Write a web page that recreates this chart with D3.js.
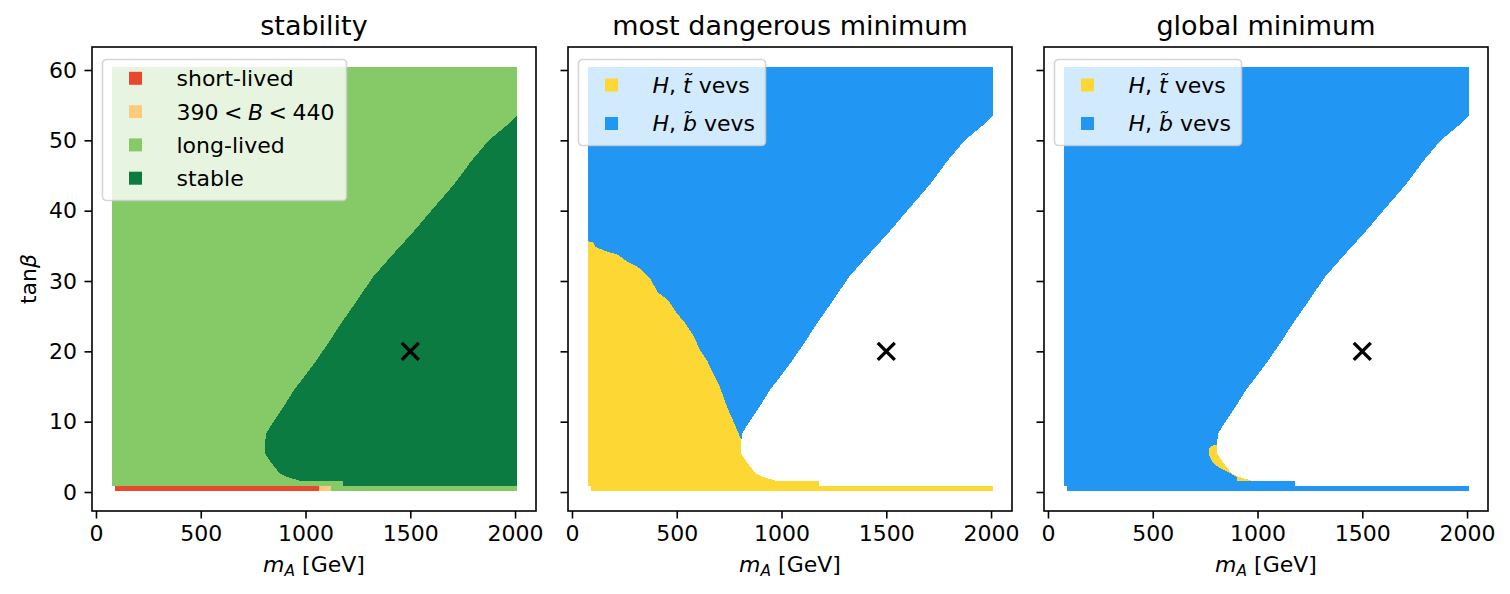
<!DOCTYPE html>
<html lang="en">
<head>
<meta charset="UTF-8">
<script src="https://cdn.jsdelivr.net/npm/d3@7"></script>
<style>
    body { margin: 0; background: #fff; }
    svg { font-family: "DejaVu Sans", sans-serif; }
</style>
<title>Vacuum stability scan</title>
</head>
<body>
<script>
    // ---- data (mA in GeV, tanβ) ----
    const panelTitles = ["stability", "most dangerous minimum", "global minimum"];
    const xTicks = [0, 500, 1000, 1500, 2000];
    const yTicks = [0, 10, 20, 30, 40, 50, 60];

    // extent of the scanned grid
    const scanMA = [75, 2011];
    const scanTanb = [0.9, 60.4];
    // thin lowest-tanβ row
    const stripMA = [91, 2011];
    const stripTanb = [0.2, 0.9];

    // stability along the lowest row
    const stripClass = ["short-lived", "390<B<440", "long-lived"];
    const stripFrom = [91, 1064, 1122];
    const stripTo = [1064, 1122, 2011];

    // left edge of the stable region (no deeper minimum), top to bottom
    const stableTanb = [53.6, 52.5, 51.5, 50.0, 47.0, 43.6, 40.0, 37.0, 33.4, 30.5, 27.3, 24.0,
                        21.0, 18.0, 14.5, 12.0, 10.2, 8.5, 7.4, 5.5, 4.1, 2.7, 2.2, 1.5, 1.5, 0.9];
    const stableMA = [2011, 1975, 1935, 1875, 1790, 1705, 1600, 1515, 1405, 1320, 1248, 1170,
                      1105, 1035, 945, 893, 852, 815, 808, 806, 838, 876, 905, 985, 1179, 1179];

    // most dangerous minimum: edge between the H,t~ and H,b~ regions
    const dangerTanb = [35.65, 35.5, 34.8, 34.4, 33.7, 32.7, 31.8, 30.4, 28.4, 27.3, 25.4,
                        24.0, 22.3, 20.2, 18.75, 16.9, 14.9, 12.1, 10.2, 8.8, 7.4];
    const dangerMA = [75, 100, 114, 148, 220, 267, 325, 372, 410, 458, 501,
                      540, 578, 611, 644, 673, 706, 740, 768, 788, 808];

    // global minimum: small H,t~ pocket next to the stable region
    const pocketTanb = [6.7, 6.25, 5.3, 4.1, 3.4, 2.7, 2.1, 1.5, 1.5, 3.0, 6.7];
    const pocketMA = [790, 768, 768, 788, 821, 869, 902, 902, 985, 1050, 900];

    // benchmark point
    const benchMA = 1500, benchTanb = 20;

    // colours
    const classColor = {
        "short-lived": "#e8492e",
        "390<B<440": "#fdcb7b",
        "long-lived": "#86ca67",
        "stable": "#0b7b41"
    };
    const vevColor = { "t": "#fdd835", "b": "#2196f3" };

    // legend entries (<i> marks italic math)
    const stabilityLegend = [
        ["short-lived", classColor["short-lived"]],
        ["390\u2005<\u2005<i>B</i>\u2005<\u2005440", classColor["390<B<440"]],
        ["long-lived", classColor["long-lived"]],
        ["stable", classColor["stable"]]
    ];
    const vevLegend = [
        ["<i>H</i>, <i>t\u0303</i> vevs", vevColor.t],
        ["<i>H</i>, <i>b\u0303</i> vevs", vevColor.b]
    ];

    // ---- layout ----
    const width = 1510, height = 594;
    const plotLeft = 92, plotTop = 47, plotW = 444, plotH = 464, panelGap = 476;
    const fs = 22, titleFs = 27;

    const x = d3.scaleLinear().domain([-19, 2100]).range([0, plotW]);
    const y = d3.scaleLinear().domain([-2.7, 63.27]).range([plotH, 0]);

    const svg = d3.select("body").append("svg")
        .attr("width", width)
        .attr("height", height);

    const zip = (ma, tb) => ma.map((m, i) => [m, tb[i]]);
    const line = d3.line().x(d => x(d[0])).y(d => y(d[1]));

    const stablePoly = zip(stableMA, stableTanb).concat([[scanMA[1], scanTanb[0]]]);
    const dangerPoly = zip(dangerMA, dangerTanb)
        .concat([[scanMA[1], scanTanb[0]], [scanMA[0], scanTanb[0]]]);
    const pocketPoly = zip(pocketMA, pocketTanb);

    // append text with <i>..</i> pieces as italic tspans
    function richText(sel, str) {
        str.split(/<i>(.*?)<\/i>/).forEach((part, i) => {
            if (!part) return;
            sel.append("tspan")
                .attr("font-style", i % 2 ? "italic" : null)
                .text(part);
        });
    }

    function rect(g, ma, tb, fill) {
        g.append("rect")
            .attr("x", x(ma[0]))
            .attr("y", y(tb[1]))
            .attr("width", x(ma[1]) - x(ma[0]))
            .attr("height", y(tb[0]) - y(tb[1]))
            .attr("fill", fill)
            .attr("shape-rendering", "crispEdges");
    }

    function poly(g, pts, fill) {
        g.append("path")
            .attr("d", line(pts) + "Z")
            .attr("fill", fill)
            .attr("shape-rendering", "crispEdges");
    }

    function legend(g, items, boxH, rowTop, rowStep, boxW) {
        const lg = g.append("g").attr("transform", "translate(10.5,12.5)");
        lg.append("rect")
            .attr("width", boxW)
            .attr("height", boxH)
            .attr("rx", 4)
            .attr("fill", "#fff")
            .attr("fill-opacity", 0.8)
            .attr("stroke", "#cccccc")
            .attr("stroke-opacity", 0.8)
            .attr("stroke-width", 1.6);
        items.forEach((it, i) => {
            const cy = rowTop + i * rowStep;
            lg.append("rect")
                .attr("x", 33 - 6.5)
                .attr("y", cy - 6.5)
                .attr("width", 13)
                .attr("height", 13)
                .attr("fill", it[1]);
            const t = lg.append("text")
                .attr("x", 74)
                .attr("y", cy)
                .attr("dy", "0.36em")
                .attr("font-size", fs);
            richText(t, it[0]);
        });
    }

    panelTitles.forEach((title, p) => {
        const g = svg.append("g")
            .attr("transform", `translate(${plotLeft + p * panelGap},${plotTop})`);

        if (p === 0) {
            rect(g, scanMA, scanTanb, classColor["long-lived"]);
            stripClass.forEach((c, i) => rect(g, [stripFrom[i], stripTo[i]], stripTanb, classColor[c]));
            poly(g, stablePoly, classColor["stable"]);
        } else if (p === 1) {
            rect(g, scanMA, scanTanb, vevColor.b);
            rect(g, stripMA, stripTanb, vevColor.t);
            poly(g, dangerPoly, vevColor.t);
            poly(g, stablePoly, "#fff");
        } else {
            rect(g, scanMA, scanTanb, vevColor.b);
            rect(g, stripMA, stripTanb, vevColor.b);
            poly(g, pocketPoly, vevColor.t);
            poly(g, stablePoly, "#fff");
        }

        // benchmark cross
        g.append("path")
            .attr("transform", `translate(${x(benchMA)},${y(benchTanb)})`)
            .attr("d", "M-8.5,-8.5L8.5,8.5M-8.5,8.5L8.5,-8.5")
            .attr("stroke", "#000")
            .attr("stroke-width", 3.4)
            .attr("fill", "none");

        if (p === 0) legend(g, stabilityLegend, 141, 18.8, 33.3, 244);
        else legend(g, vevLegend, 86, 25.5, 38.5, 187);

        // axes
        const xa = g.append("g")
            .attr("transform", `translate(0,${plotH})`)
            .call(d3.axisBottom(x).tickValues(xTicks).tickSize(7.5).tickPadding(7).tickFormat(d3.format("d")));
        const ya = g.append("g")
            .call(d3.axisLeft(y).tickValues(yTicks).tickSize(7.5).tickPadding(7.5)
                .tickFormat(p === 0 ? d3.format("d") : () => ""));
        [xa, ya].forEach(a => {
            a.attr("font-size", fs).attr("font-family", null);
            a.select(".domain").remove();
            a.selectAll(".tick line").attr("stroke", "#000").attr("stroke-width", 1.6);
            a.selectAll(".tick text").attr("fill", "#000");
        });

        g.append("rect")
            .attr("width", plotW)
            .attr("height", plotH)
            .attr("fill", "none")
            .attr("stroke", "#000")
            .attr("stroke-width", 1.6);

        g.append("text")
            .attr("x", plotW / 2)
            .attr("y", -12.5)
            .attr("text-anchor", "middle")
            .attr("font-size", titleFs)
            .text(title);

        const xl = g.append("text")
            .attr("x", plotW / 2)
            .attr("y", 525)
            .attr("text-anchor", "middle")
            .attr("font-size", fs);
        xl.append("tspan").attr("font-style", "italic").text("m");
        xl.append("tspan").attr("font-style", "italic").attr("font-size", fs * 0.7).attr("dy", 4).text("A");
        xl.append("tspan").attr("dy", -4).text(" [GeV]");

        if (p === 0) {
            const yl = g.append("text")
                .attr("transform", `translate(-56,${plotH / 2}) rotate(-90)`)
                .attr("text-anchor", "middle")
                .attr("font-size", fs);
            yl.append("tspan").text("tan");
            yl.append("tspan").attr("font-style", "italic").text("β");
        }
    });
</script>
</body>
</html>
